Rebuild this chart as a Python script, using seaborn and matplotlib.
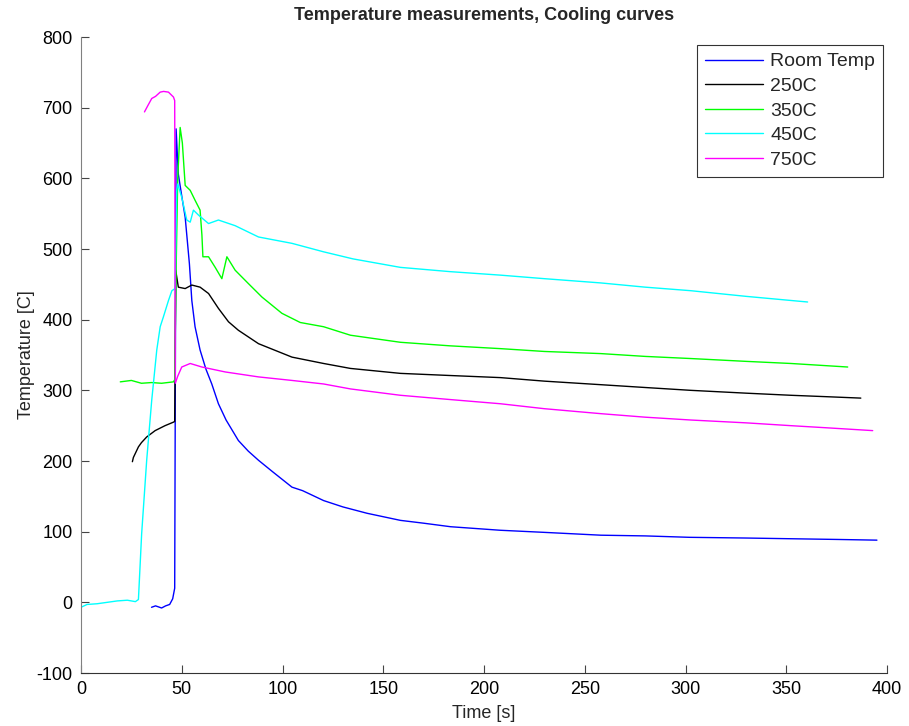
import matplotlib
matplotlib.use("Agg")
import matplotlib.pyplot as plt
import pandas as pd
import seaborn as sns

series = ["Room Temp", "250C", "350C", "450C", "750C"]
colors = ["#0000ff", "#000000", "#00ff00", "#00ffff", "#ff00ff"]

room_t = [35, 37, 40, 42, 44, 45.5, 46.5, 46.8, 47.2, 48.3, 50, 51.7, 53.8, 55, 56.6, 59.1, 62, 64.9,
          68.2, 72, 78.1, 83, 88.1, 95, 104.7, 110, 120.4, 130, 142, 158.5, 170, 183.4, 208, 230,
          258, 280, 302, 330, 352, 375, 395]
room_v = [-7, -5, -8, -5, -3, 5, 20, 300, 670, 606, 575, 545, 479, 427, 390, 357, 330, 309,
          281, 258, 229, 214, 201, 185, 163, 158, 144, 135, 126, 116, 112, 107, 102, 99,
          95, 94, 92, 91, 90, 89, 88]

c250_t = [25.5, 26, 28.5, 30, 32.6, 36.8, 41.7, 45.9, 46.5, 47, 48.3, 51.7, 55, 59.1, 63.3, 68.2,
          73.2, 78.1, 88.1, 104.7, 120.4, 133.7, 158.5, 183, 208.2, 230, 257.9, 280, 302.6, 330,
          352.3, 370, 387]
c250_v = [199, 205, 220, 226, 234, 243, 250, 255, 256, 470, 446, 444, 449, 446, 437, 416,
          397, 385, 366, 347, 338, 331, 324, 321, 318, 313, 308, 304, 300, 296,
          293, 291, 289]

c350_t = [19.5, 25, 30, 35, 40, 45.9, 46.5, 47.2, 48, 49.2, 50.3, 51.7, 54.2, 56.6, 59.1, 60, 60.5,
          63.3, 66.6, 69.9, 72.4, 76.5, 83.1, 89.8, 99.7, 108.8, 120.4, 133.7, 158.5, 183, 208.2,
          230, 257.9, 280, 302.6, 330, 352.3, 380.5]
c350_v = [312, 314, 310, 311, 310, 312, 315, 470, 600, 672, 650, 590, 583, 569, 555, 520, 489,
          489, 474, 458, 489, 470, 451, 432, 409, 396, 390, 378, 368, 363, 359,
          355, 352, 348, 345, 341, 338, 333]

c450_t = [0, 3, 8, 13, 18, 23, 27, 28.5, 30.1, 32.6, 35.1, 37.6, 39.3, 40.9, 43.4, 45.1, 46.7, 47.5,
          48, 50, 52.5, 54.2, 55.8, 58.3, 63.3, 68.2, 76.5, 88.1, 104.7, 120.4, 135, 158.5, 183,
          208.2, 230, 257.9, 280, 302.6, 330, 360.6]
c450_v = [-7, -3, -2, 0, 2, 3, 1, 4, 97, 201, 286, 357, 390, 404, 427, 441, 444, 583,
          592, 573, 541, 538, 555, 548, 536, 541, 533, 517, 508, 496, 486, 474, 468,
          463, 458, 452, 446, 441, 433, 425]

c750_t = [31.5, 33, 35.1, 37, 39.3, 41, 43.4, 45.9, 46.5, 46.8, 48, 50, 54.2, 60, 71.6, 88.1, 104.7,
          120.4, 133.7, 158.5, 183, 208.2, 230, 257.9, 280, 302.6, 330, 352.3, 370, 392.9]
c750_v = [694, 702, 713, 716, 722, 723, 722, 715, 710, 310, 320, 333, 338, 333, 326, 319, 314,
          309, 302, 293, 287, 281, 274, 267, 262, 258, 254, 250, 247, 243]

xticks = list(range(0, 401, 50))
yticks = list(range(-100, 801, 100))

frames = []
for name, t, v in zip(series, [room_t, c250_t, c350_t, c450_t, c750_t],
                      [room_v, c250_v, c350_v, c450_v, c750_v]):
    frames.append(pd.DataFrame({"Time": t, "Temp": v, "Series": name}))
df = pd.concat(frames, ignore_index=True)

sns.set_style("ticks")
plt.rcParams["font.family"] = ["Liberation Sans", "DejaVu Sans"]
plt.rcParams["axes.unicode_minus"] = False

W, H = 909, 726
fig = plt.figure(figsize=(W / 100, H / 100), dpi=100)
ax = fig.add_axes([81 / W, 1 - 673 / H, 806 / W, 636 / H])

sns.lineplot(data=df, x="Time", y="Temp", hue="Series", hue_order=series, palette=colors,
             sort=False, estimator=None, linewidth=1.0, ax=ax)

ax.set_xlim(0, 400)
ax.set_ylim(-100, 800)
ax.set_xticks(xticks)
ax.set_yticks(yticks)
ax.tick_params(direction="in", length=6, width=0.8, labelsize=13, pad=6, colors="#444444",
               labelcolor="black")
ax.spines["top"].set_visible(False)
ax.spines["right"].set_visible(False)
ax.spines["left"].set_color("#808080")
ax.spines["bottom"].set_color("#333333")
ax.set_xlabel("Time [s]", fontsize=13, labelpad=5)
ax.set_ylabel("Temperature [C]", fontsize=13, labelpad=1)
ax.set_title("Temperature measurements, Cooling curves", fontsize=13, fontweight="bold", pad=12)

leg = ax.legend(loc="upper right", bbox_to_anchor=(883 / W, 1 - 45 / H), bbox_transform=fig.transFigure,
                frameon=True, fancybox=False, edgecolor="black", fontsize=14, handlelength=3.0,
                handletextpad=0.36, labelspacing=0.36, borderaxespad=0, borderpad=0.4, title=None)
leg.get_frame().set_linewidth(0.8)
for line in leg.get_lines():
    line.set_linewidth(1.0)

fig.savefig("out.png", dpi=100)
